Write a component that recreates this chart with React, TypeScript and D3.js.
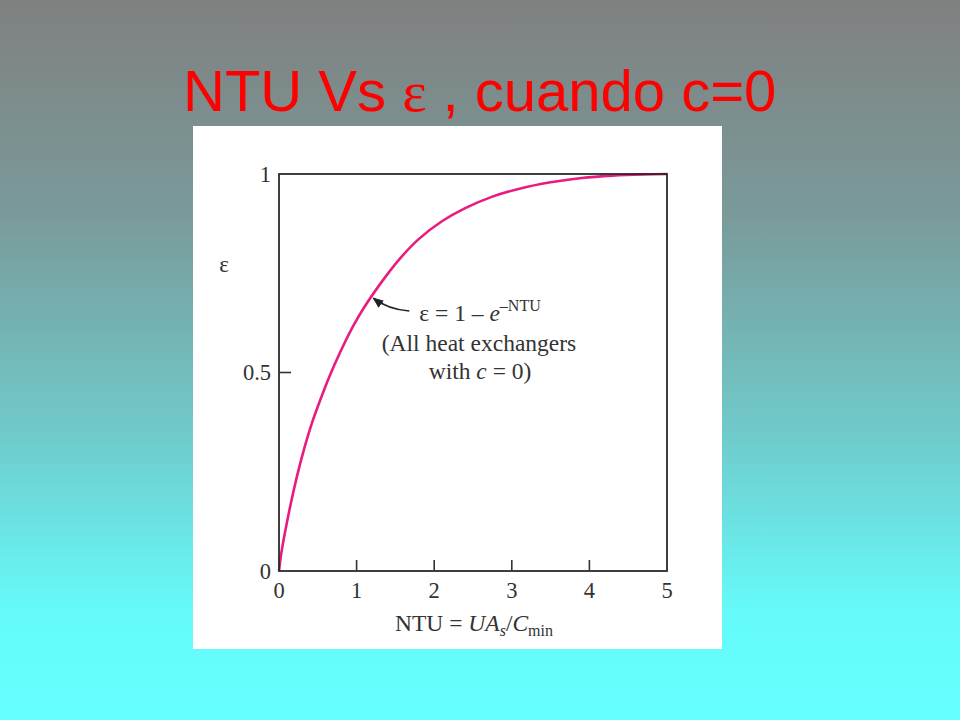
import React from "react";
import * as d3 from "d3";

// Data
const ntuValues = [0, 0.03, 0.08, 0.15, 0.23, 0.32, 0.42, 0.53, 0.65, 0.8, 0.95, 1.1, 1.3, 1.55, 1.8, 2.1, 2.4, 2.75, 3.1, 3.5, 3.9, 4.3, 4.7, 5.0];
const epsValues = [0, 0.045, 0.1, 0.168, 0.237, 0.305, 0.37, 0.43, 0.49, 0.556, 0.615, 0.665, 0.722, 0.785, 0.836, 0.881, 0.914, 0.943, 0.963, 0.979, 0.99, 0.996, 0.999, 1.0];
const xTicks = [0, 1, 2, 3, 4, 5];
const yTicks = [0, 0.5, 1];
const yTickLabels = ["0", "0.5", "1"];

const W = 960;
const H = 720;
const plot = { left: 279, right: 667, top: 174, bottom: 571 };
const serif = "'Liberation Serif', 'Times New Roman', serif";
const sans = "'Liberation Sans', Arial, sans-serif";

export default function App() {
  const x = d3.scaleLinear().domain([0, 5]).range([plot.left, plot.right]);
  const y = d3.scaleLinear().domain([0, 1]).range([plot.bottom, plot.top]);
  const pts = ntuValues.map((n, i) => [n, epsValues[i]] as [number, number]);
  const line = d3
    .line<[number, number]>()
    .x((d) => x(d[0]))
    .y((d) => y(d[1]))
    .curve(d3.curveCatmullRom.alpha(0.5));

  // annotation anchor on the curve
  const ax = x(1.19);
  const ay = y(0.69);

  return (
    <svg
      width={W}
      height={H}
      viewBox={`0 0 ${W} ${H}`}
      style={{ position: "absolute", left: 0, top: 0 }}
    >
      <defs>
        <linearGradient id="bg" x1="0" y1="0" x2="0" y2="1">
          <stop offset="0" stopColor="#808080" />
          <stop offset="0.3" stopColor="#7a9a9a" />
          <stop offset="0.6" stopColor="#70caca" />
          <stop offset="0.85" stopColor="#66fafa" />
          <stop offset="1" stopColor="#66ffff" />
        </linearGradient>
        <marker id="arrow" viewBox="0 0 10 10" refX="9" refY="5" markerWidth="7" markerHeight="7" orient="auto">
          <path d="M0,1 L10,5 L0,9 Z" fill="#222" />
        </marker>
      </defs>
      <rect x={0} y={0} width={W} height={H} fill="url(#bg)" />

      {/* Title */}
      <text x={183} y={111} fill="#ff0000" fontFamily={sans} fontSize={58}>
        NTU Vs{" "}
        <tspan fontFamily={serif} fontSize={58}>ε</tspan>
        {" , cuando c=0"}
      </text>

      {/* White panel */}
      <rect x={193} y={126} width={529} height={523} fill="#ffffff" />

      {/* Curve */}
      <path d={line(pts) || ""} fill="none" stroke="#e81c7e" strokeWidth={2.6} />

      {/* Frame */}
      <rect
        x={plot.left}
        y={plot.top}
        width={plot.right - plot.left}
        height={plot.bottom - plot.top}
        fill="none"
        stroke="#2a2a2a"
        strokeWidth={1.8}
      />

      {/* x ticks */}
      {xTicks.map((t) => (
        <g key={"xt" + t}>
          {t > 0 && t < 5 && (
            <line x1={x(t)} x2={x(t)} y1={plot.bottom} y2={plot.bottom - 11} stroke="#333" strokeWidth={1.6} />
          )}
          <text x={x(t)} y={598} textAnchor="middle" fontFamily={serif} fontSize={22.5} fill="#333">
            {t}
          </text>
        </g>
      ))}

      {/* y ticks */}
      {yTicks.map((t, i) => (
        <g key={"yt" + t}>
          {t > 0 && t < 1 && (
            <line x1={plot.left} x2={plot.left + 12} y1={y(t)} y2={y(t)} stroke="#333" strokeWidth={1.6} />
          )}
          <text x={271} y={y(t)} dy="0.35em" textAnchor="end" fontFamily={serif} fontSize={22.5} fill="#333">
            {yTickLabels[i]}
          </text>
        </g>
      ))}

      {/* Axis titles */}
      <text x={224} y={272} textAnchor="middle" fontFamily={serif} fontSize={23} fill="#333">
        ε
      </text>
      <text x={474} y={631} textAnchor="middle" fontFamily={serif} fontSize={23.5} fill="#333">
        NTU = <tspan fontStyle="italic">UA</tspan>
        <tspan fontStyle="italic" fontSize={16} dy={5}>s</tspan>
        <tspan dy={-5}>/</tspan>
        <tspan fontStyle="italic">C</tspan>
        <tspan fontSize={16} dy={5}>min</tspan>
      </text>

      {/* Annotation */}
      <path
        d={`M${ax + 38},${ay + 14} Q${ax + 16},${ay + 12} ${ax + 2},${ay + 1}`}
        fill="none"
        stroke="#222"
        strokeWidth={1.6}
        markerEnd="url(#arrow)"
      />
      <text x={480} y={321} textAnchor="middle" fontFamily={serif} fontSize={23.5} fill="#333">
        ε = 1 – <tspan fontStyle="italic">e</tspan>
        <tspan fontSize={16} dy={-10}>–NTU</tspan>
      </text>
      <text x={479} y={351} textAnchor="middle" fontFamily={serif} fontSize={23.5} fill="#333">
        (All heat exchangers
      </text>
      <text x={480} y={379} textAnchor="middle" fontFamily={serif} fontSize={23.5} fill="#333">
        with <tspan fontStyle="italic">c</tspan> = 0)
      </text>
    </svg>
  );
}
